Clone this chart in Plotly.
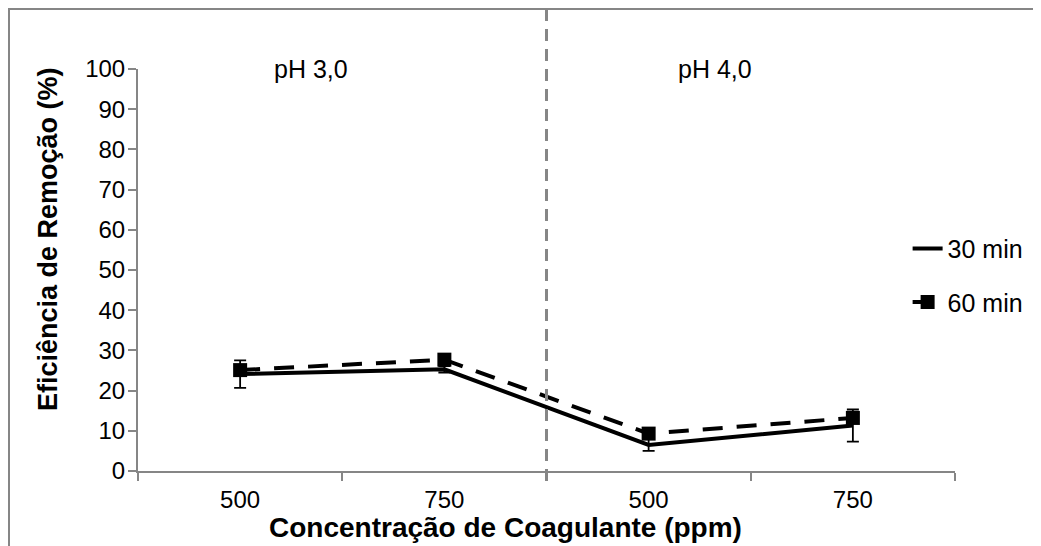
import plotly.graph_objects as go

categories = ["500", "750", "500", "750"]
x_pos = [0, 1, 2, 3]
series_30 = [24.1, 25.3, 6.5, 11.3]
err_30 = [3.4, 0.8, 1.5, 4.0]
series_60 = [25.1, 27.7, 9.3, 13.2]
err_60 = [1.2, 0.8, 1.0, 1.2]
group_labels = ["pH 3,0", "pH 4,0"]
y_ticks = list(range(0, 101, 10))
x_title = "<b>Concentração de Coagulante (ppm)</b>"
y_title = "<b>Eficiência de Remoção (%)</b>"

FONT = "Liberation Sans, Arial, sans-serif"
GRAY = "#868686"

# page has an 8px body margin; margins compensate for it
L, T, PW, PH = 130, 61, 817, 402


def px_x(page_x):
    return (page_x - 8 - L) / PW


def px_y(page_y):
    return (T + PH - (page_y - 8)) / PH


fig = go.Figure()
fig.add_trace(go.Scatter(
    x=x_pos, y=series_30, name="30 min", mode="lines",
    line=dict(color="black", width=4),
    error_y=dict(type="data", array=err_30, color="black", thickness=1.8, width=6),
    legendgroup="a",
))
fig.add_trace(go.Scatter(
    x=x_pos, y=series_60, name="60 min", mode="lines+markers",
    line=dict(color="black", width=4, dash="20px,14px"),
    marker=dict(symbol="square", size=14, color="black"),
    error_y=dict(type="data", array=err_60, color="black", thickness=1.8, width=6),
    legendgroup="b",
))

fig.update_layout(
    width=1041, height=546,
    margin=dict(l=L, r=1041 - L - PW, t=T, b=546 - T - PH),
    paper_bgcolor="white", plot_bgcolor="white",
    font=dict(family=FONT, size=24, color="black"),
    showlegend=True,
    legend=dict(x=0.942, y=0.61, xanchor="left", yanchor="top",
                font=dict(size=25), traceorder="grouped", tracegroupgap=18,
                bgcolor="rgba(0,0,0,0)"),
    xaxis=dict(
        range=[-0.5, 3.5], tickvals=x_pos, ticktext=categories,
        showgrid=False, zeroline=False, showline=True, linecolor=GRAY, linewidth=2,
        ticks="", tickfont=dict(size=24), ticklabelstandoff=6,
        minor=dict(tickvals=[-0.5, 0.5, 1.5, 2.5, 3.5], ticks="outside",
                   ticklen=8, tickcolor=GRAY, tickwidth=2, showgrid=False),
    ),
    yaxis=dict(
        range=[0, 100], tickvals=y_ticks,
        showgrid=False, zeroline=False, showline=True, linecolor=GRAY, linewidth=2,
        ticks="outside", ticklen=8, tickcolor=GRAY, tickwidth=2, tickfont=dict(size=24),
        ticklabelstandoff=-2,
    ),
)

# axis titles (placed as in the reference, off-centre)
fig.add_annotation(x=px_x(505), y=px_y(527), xref="paper", yref="paper", text=x_title,
                   showarrow=False, font=dict(size=28), xanchor="center", yanchor="middle")
fig.add_annotation(x=px_x(48), y=px_y(239), xref="paper", yref="paper", text=y_title,
                   showarrow=False, font=dict(size=27), textangle=-90,
                   xanchor="center", yanchor="middle")

# group separator
fig.add_shape(type="line", xref="x", yref="paper", x0=1.5, x1=1.5, y0=-0.025, y1=1.15,
              line=dict(color=GRAY, width=3, dash="12px,8px"))
# outer chart border
fig.add_shape(type="rect", xref="paper", yref="paper",
              x0=(1 - L) / PW, x1=1.3, y0=-0.4, y1=(PH + T - 1) / PH,
              line=dict(color=GRAY, width=2))

ann_x = [px_x(311), px_x(715)]
for ax_, txt in zip(ann_x, group_labels):
    fig.add_annotation(x=ax_, y=1.0, xref="paper", yref="paper", text=txt,
                       showarrow=False, font=dict(size=25), xanchor="center", yanchor="middle")

fig.write_html("out.html")
